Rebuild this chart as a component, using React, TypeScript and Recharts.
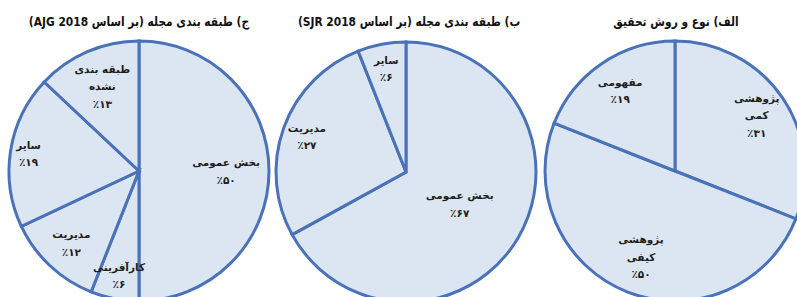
import { PieChart, Pie } from "recharts";

// ج) AJG 2018
const ajgNames = ["بخش عمومی", "کارآفرینی", "مدیریت", "سایر", "طبقه بندی|نشده"];
const ajgValues = [50, 6, 12, 19, 13];

// ب) SJR 2018
const sjrNames = ["بخش عمومی", "مدیریت", "سایر"];
const sjrValues = [67, 27, 6];

// الف) نوع و روش تحقیق
const typeNames = ["پژوهشی|کمی", "پژوهشی|کیفی", "مفهومی"];
const typeValues = [31, 50, 19];

const titles = [
  "ج) طبقه بندی مجله (بر اساس AJG 2018)",
  "ب) طبقه بندی مجله (بر اساس SJR 2018)",
  "الف) نوع و روش تحقیق",
];

const FILL = "#dce6f2";
const STROKE = "#4a72b8";
const FONT = "'DejaVu Sans', sans-serif";
const RADIAN = Math.PI / 180;

const faDigits = (n: number) =>
  String(n).replace(/[0-9]/g, (d) => "۰۱۲۳۴۵۶۷۸۹"[Number(d)]);

function build(names: string[], values: number[]) {
  return names.map((n, i) => ({ name: n, value: values[i] }));
}

const charts = [
  { data: build(ajgNames, ajgValues), cx: 139, cy: 171, ratios: [0.67, 0.82, 0.76, 0.86, 0.71] },
  { data: build(sjrNames, sjrValues), cx: 406, cy: 172, ratios: [0.48, 0.81, 0.81] },
  { data: build(typeNames, typeValues), cx: 675, cy: 171, ratios: [0.76, 0.71, 0.75] },
];

function makeLabel(ratios: number[]) {
  return (props: any) => {
    const { cx, cy, midAngle, outerRadius, index, payload } = props;
    const r = outerRadius * ratios[index];
    const x = cx + r * Math.cos(-midAngle * RADIAN);
    const y = cy + r * Math.sin(-midAngle * RADIAN);
    const lines = [...String(payload.name).split("|"), "٪" + faDigits(payload.value)];
    const lh = 17.5;
    const y0 = y - ((lines.length - 1) * lh) / 2;
    return (
      <text
        x={x}
        y={y0}
        textAnchor="middle"
        fill="#1e1e1e"
        fontFamily={FONT}
        fontSize={10.5}
        fontWeight="bold"
      >
        {lines.map((l, i) => (
          <tspan key={i} x={x} y={y0 + i * lh} dominantBaseline="central">
            {l}
          </tspan>
        ))}
      </text>
    );
  };
}

const titleCenters = [139, 409, 676];

export default function App() {
  return (
    <div style={{ position: "absolute", left: 0, top: 0, width: 797, height: 297, background: "#fff", overflow: "hidden" }}>
      <PieChart width={797} height={297} margin={{ top: 0, right: 0, bottom: 0, left: 0 }}>
        {charts.map((c, i) => (
          <Pie
            key={i}
            data={c.data}
            dataKey="value"
            nameKey="name"
            cx={c.cx}
            cy={c.cy}
            outerRadius={130}
            startAngle={90}
            endAngle={-270}
            fill={FILL}
            stroke={STROKE}
            strokeWidth={3}
            labelLine={false}
            label={makeLabel(c.ratios)}
            isAnimationActive={false}
          />
        ))}
      </PieChart>
      {titles.map((t, i) => (
        <div
          key={i}
          style={{
            position: "absolute",
            left: titleCenters[i] - 150,
            width: 300,
            top: 14,
            textAlign: "center",
            direction: "rtl",
            fontFamily: FONT,
            fontWeight: "bold",
            fontSize: 13,
            color: "#111",
            whiteSpace: "nowrap",
            transform: "scaleX(0.82)",
            transformOrigin: "center",
          }}
        >
          {t}
        </div>
      ))}
    </div>
  );
}
